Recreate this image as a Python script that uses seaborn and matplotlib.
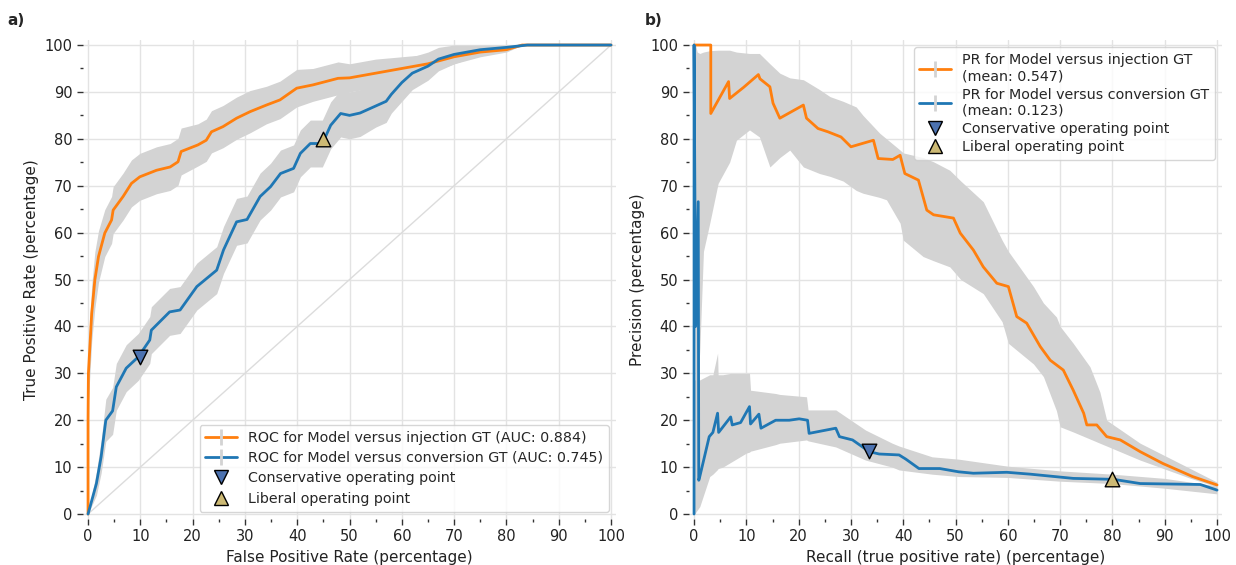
import numpy as np
import matplotlib
matplotlib.use("Agg")
import matplotlib.pyplot as plt
from matplotlib.lines import Line2D
from matplotlib.ticker import MultipleLocator
import seaborn as sns

# ---------------- data ----------------
roc_inj_fpr = [0, 0, 0.07, 0.7, 1.3, 2, 3.2, 4.5, 4.8, 6.7, 8.3, 9.9, 13.1, 15.7, 17.2, 17.8, 21, 22.6, 23.6,
               25.8, 28.4, 31, 34.1, 36.7, 39.9, 43, 47.8, 50, 55, 60, 65, 70, 75, 80, 83, 100]
roc_inj_tpr = [0, 20, 30, 42.8, 49.9, 54.9, 59.9, 62.7, 64.8, 67.7, 70.5, 71.9, 73.3, 74, 75.1, 77.3, 78.7, 79.7, 81.5,
               82.6, 84.4, 85.8, 87.2, 88.3, 90.8, 91.5, 92.9, 93, 94, 95, 96, 97.5, 98.5, 99, 100, 100]
roc_inj_err = [0, 5, 6, 6, 6, 5.5, 5, 5, 5, 5, 5, 5, 5, 5, 5, 5, 4.5, 4.5, 4.5,
               4.5, 4.5, 4.5, 4, 4, 4, 3.5, 3.5, 3, 3, 2.5, 2, 1.5, 1, 0.5, 0, 0]

roc_conv_fpr = [0, 1.6, 2.5, 3.4, 4.7, 5.4, 7.3, 9.6, 11.8, 12.1, 15.6, 17.6, 20.8, 24.6, 25.9, 28.4, 30.4, 32.9,
                34.9, 36.8, 39.3, 40.6, 42.5, 44.8, 46.4, 48.3, 50, 52, 55, 57, 58, 60, 62, 65, 67, 70, 75, 80, 84, 100]
roc_conv_tpr = [0, 6.5, 12.2, 20, 22, 27.1, 31.1, 33.5, 37.1, 39.2, 43.1, 43.5, 48.5, 52, 56.3, 62.3, 62.8, 67.7,
                69.8, 72.6, 73.7, 76.9, 79, 79, 82.9, 85.4, 85, 85.5, 87, 88, 89.5, 92, 94, 95.5, 97, 98, 99, 99.5, 100, 100]
roc_conv_err = [0, 2.5, 3.5, 4.5, 5, 5, 5, 5, 5, 5, 5, 5, 5, 5, 5, 5, 5, 5,
                5, 5, 5, 5, 5, 5, 5, 5, 5, 5, 4.5, 4.5, 4, 4, 3.5, 3, 2.5, 2, 1, 0.5, 0, 0]

pr_inj_rec = [0, 3.2, 3.2, 6.6, 6.8, 9.5, 12.3, 12.6, 14.5, 15.1, 16.4, 20.9, 21.5, 23.7, 25.6, 28.1, 30, 34.3,
              35.2, 38, 39.4, 40.3, 42.9, 44.5, 45.8, 49.6, 50.9, 53.4, 55.3, 57.9, 60.1, 61.7, 63.6, 66.2,
              68.1, 70.6, 72.5, 74.5, 75.1, 77, 78.9, 81.5, 85.3, 89.6, 95.3, 100]
pr_inj_prec = [100, 100, 85.4, 92.2, 88.6, 91, 93.7, 92.8, 91.1, 87.6, 84.4, 87.2, 84.4, 82.2, 81.5, 80.4, 78.3, 79.7,
               75.8, 75.6, 76.5, 72.6, 71.2, 64.8, 63.8, 63.1, 59.9, 56.3, 52.7, 49.2, 48.5, 42.1, 40.7, 35.7,
               32.8, 30.7, 26.4, 21.5, 19, 19, 16.5, 15.8, 13.3, 10.8, 8.0, 6.2]
pr_inj_band_x = [0, 0.3, 0.6, 1.1, 1.8, 3, 4.6, 6.8, 8.1, 10.6, 12.5, 14.5, 16.4, 18.3, 20.9, 24, 26, 28.5, 31,
                 32.3, 35.5, 36.8, 39.4, 40, 43.8, 45.8, 48.9, 51, 55.3, 58.9, 60.1, 64.9, 66.8, 69.3, 70,
                 72.5, 75.7, 77.6, 78.9, 85.3, 94.7, 100]
pr_inj_low = [100, 10, 25, 35, 56, 62, 70.5, 75, 79.7, 81.9, 80.4, 74, 76, 77.6, 74, 72.6, 72, 71, 69,
              68.4, 67.5, 67, 62, 58.4, 54.9, 54, 52.7, 50, 47, 41, 36.4, 32, 29.3, 22, 18.6,
              17.5, 16, 15.1, 14.5, 11.5, 7.7, 5.8]
pr_inj_high = [100, 100, 98.5, 98.2, 98.5, 98.8, 98.9, 98.9, 98.5, 98.2, 98.2, 96, 94, 93, 92.6, 90.5, 89, 88, 86.8,
               85, 81.2, 80, 77.6, 77, 76, 75.1, 73.3, 71, 66.6, 58.4, 56, 48.5, 45, 42, 40,
               36.4, 31.4, 26, 20, 15.1, 9.8, 6.8]

pr_conv_rec = [0, 0, 0.3, 0.8, 0.9, 1.1, 2.9, 3.6, 4.5, 4.7, 7, 7.3, 8.9, 10.6, 10.8, 12.4, 12.8, 15.6, 18.2,
               20.1, 21.7, 22, 27.1, 27.8, 30.3, 33.5, 35.4, 39.2, 40.5, 43, 47, 50.6, 53.4, 59.8, 64.3,
               72.5, 80.2, 85.3, 96.8, 100]
pr_conv_prec = [0, 100, 40, 66.6, 7.2, 8, 16.5, 17.4, 21.5, 17.4, 20.7, 19, 19.5, 22.9, 19.2, 21.3, 18.3, 20, 20,
                20.3, 20, 17.2, 18.3, 16.5, 15.8, 13.3, 12.8, 12.6, 11.7, 9.7, 9.7, 9.0, 8.7, 8.9, 8.5,
                7.6, 7.4, 6.5, 6.3, 5.1]
pr_conv_band_x = [0.1, 1.1, 3, 3.6, 4.5, 4.6, 5.5, 7, 10, 10.6, 10.8, 15.6, 16.4, 21.5, 21.8, 27.1, 32.8,
                  37.9, 39.2, 45.5, 50.6, 60, 70, 80, 90, 100]
pr_conv_low = [0, 1.6, 8, 8.5, 9.5, 9.7, 10, 11, 13, 13.2, 13.4, 14.8, 15.1, 15.8, 15.6, 14.3, 11.5,
               10, 9.4, 8.5, 8, 7.8, 7, 6.5, 5.5, 4.3]
pr_conv_high = [28.6, 28.6, 29.7, 29.7, 34.3, 29.7, 29.7, 30, 30, 30, 26.4, 25.7, 25.5, 25, 22.2, 22.2, 17.9,
                15.1, 14.5, 12.2, 11.7, 10.2, 9.2, 8.5, 7.6, 6]

cons_roc = (10, 33.5)
lib_roc = (45, 80)
cons_pr = (33.5, 13.5)
lib_pr = (80, 7.5)

labels_a = ["ROC for Model versus injection GT (AUC: 0.884)",
            "ROC for Model versus conversion GT (AUC: 0.745)",
            "Conservative operating point", "Liberal operating point"]
labels_b = ["PR for Model versus injection GT\n(mean: 0.547)",
            "PR for Model versus conversion GT\n(mean: 0.123)",
            "Conservative operating point", "Liberal operating point"]

ORANGE = "#ff7f0e"
BLUE = "#1f77b4"
BAND = "#d3d3d3"
CONS = "#4c72b0"
LIB = "#ccb974"

sns.set_style("whitegrid", {"grid.color": "#e3e3e3", "axes.edgecolor": "white"})
plt.rcParams["font.family"] = ["DejaVu Sans"]

fig = plt.figure(figsize=(12.36, 5.65), dpi=100)
axa = fig.add_axes([0.0670, 0.0819, 0.4316, 0.8467])
axb = fig.add_axes([0.5573, 0.0819, 0.4316, 0.8467])


def style(ax):
    for s in ax.spines.values():
        s.set_visible(False)
    ax.set_xlim(-1, 101)
    ax.set_ylim(-1, 101)
    ax.xaxis.set_major_locator(MultipleLocator(10))
    ax.yaxis.set_major_locator(MultipleLocator(10))
    ax.xaxis.set_minor_locator(MultipleLocator(5))
    ax.yaxis.set_minor_locator(MultipleLocator(5))
    ax.tick_params(which="major", length=4, width=1, color="#333333", labelsize=10.5, direction="out",
                   bottom=True, left=True, labelcolor="#222222")
    ax.tick_params(which="minor", length=2, width=1, color="#333333", bottom=True, left=True)
    ax.grid(which="minor", visible=False)
    ax.grid(which="major", color="#e3e3e3", linewidth=1)
    ax.set_axisbelow(True)


# ---------- panel a ----------
style(axa)
axa.plot([0, 100], [0, 100], color="#dcdcdc", lw=1, zorder=1)
for fx, ty, er in [(roc_inj_fpr, roc_inj_tpr, roc_inj_err), (roc_conv_fpr, roc_conv_tpr, roc_conv_err)]:
    y = np.array(ty); e = np.array(er)
    axa.fill_between(fx, np.clip(y - e, 0, 100), np.clip(y + e, 0, 100), color=BAND, lw=0, zorder=2)
sns.lineplot(x=roc_inj_fpr, y=roc_inj_tpr, ax=axa, color=ORANGE, lw=2, sort=False, estimator=None, zorder=3)
sns.lineplot(x=roc_conv_fpr, y=roc_conv_tpr, ax=axa, color=BLUE, lw=2, sort=False, estimator=None, zorder=3)
axa.scatter(*cons_roc, marker="v", s=110, color=CONS, edgecolor="black", lw=1, zorder=5)
axa.scatter(*lib_roc, marker="^", s=110, color=LIB, edgecolor="black", lw=1, zorder=5)
axa.set_xlabel("False Positive Rate (percentage)", fontsize=11, color="#222222")
axa.set_ylabel("True Positive Rate (percentage)", fontsize=11, color="#222222")

# ---------- panel b ----------
style(axb)
axb.fill_between(pr_inj_band_x, pr_inj_low, pr_inj_high, color=BAND, lw=0, zorder=2)
axb.fill_between(pr_conv_band_x, pr_conv_low, pr_conv_high, color=BAND, lw=0, zorder=2)
sns.lineplot(x=pr_inj_rec, y=pr_inj_prec, ax=axb, color=ORANGE, lw=2, sort=False, estimator=None, zorder=3)
sns.lineplot(x=pr_conv_rec, y=pr_conv_prec, ax=axb, color=BLUE, lw=2, sort=False, estimator=None, zorder=3)
axb.scatter(*cons_pr, marker="v", s=110, color=CONS, edgecolor="black", lw=1, zorder=5)
axb.scatter(*lib_pr, marker="^", s=110, color=LIB, edgecolor="black", lw=1, zorder=5)
axb.set_xlabel("Recall (true positive rate) (percentage)", fontsize=11, color="#222222")
axb.set_ylabel("Precision (percentage)", fontsize=11, color="#222222")


def handles():
    bar = Line2D([], [], color=BAND, marker="|", markersize=12, mew=2, lw=0)
    h1 = (Line2D([], [], color=ORANGE, lw=2), bar)
    h2 = (Line2D([], [], color=BLUE, lw=2), bar)
    h3 = Line2D([], [], marker="v", color=CONS, markeredgecolor="black", lw=0, markersize=10)
    h4 = Line2D([], [], marker="^", color=LIB, markeredgecolor="black", lw=0, markersize=10)
    return [h1, h2, h3, h4]


axa.legend(handles(), labels_a, loc="lower right", bbox_to_anchor=(1.0, 0.0), fontsize=10.3, frameon=True,
           framealpha=0.8, edgecolor="#cccccc", borderpad=0.4, labelspacing=0.45, handlelength=2.2)
axb.legend(handles(), labels_b, loc="upper right", bbox_to_anchor=(1.0, 1.0), fontsize=10.3, frameon=True,
           framealpha=0.8, edgecolor="#cccccc", borderpad=0.4, labelspacing=0.3, handlelength=2.2)

fig.text(0.006, 0.955, "a)", fontsize=11, fontweight="bold")
fig.text(0.522, 0.955, "b)", fontsize=11, fontweight="bold")

fig.savefig("out.png", dpi=100)
